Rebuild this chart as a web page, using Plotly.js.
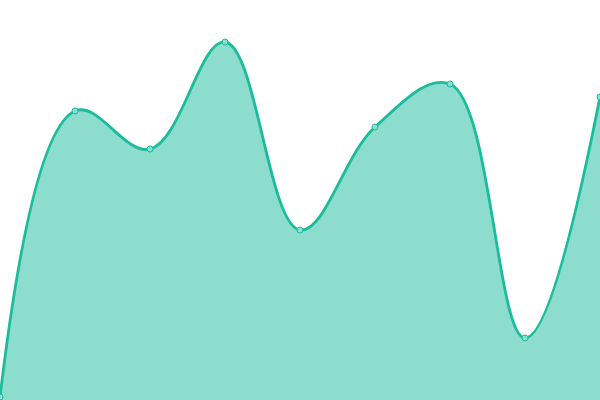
<!DOCTYPE html>
<html>
<head>
<meta charset="utf-8">
<script src="https://cdn.plot.ly/plotly-3.0.1.min.js"></script>
<style>
html, body { margin: 0; padding: 0; background: #fff; }
#chart { width: 600px; height: 400px; }
</style>
</head>
<body>
<div id="chart"></div>
<script>
// values (0 = bottom edge, 400 = top edge)
var xs = [0, 1, 2, 3, 4, 5, 6, 7, 8];
var values = [3, 289, 251, 358, 170, 273, 316, 62, 303];

var trace = {
  x: xs,
  y: values,
  type: 'scatter',
  mode: 'lines+markers',
  fill: 'tozeroy',
  fillcolor: 'rgba(26,188,156,0.5)',
  line: { color: '#1abc9c', width: 2.8, shape: 'spline', smoothing: 1.1 },
  marker: { size: 6, color: '#8ae0d0', line: { color: '#1abc9c', width: 1 } },
  hoverinfo: 'none'
};

var layout = {
  width: 600,
  height: 400,
  margin: { l: 0, r: 0, t: 0, b: 0 },
  paper_bgcolor: '#fff',
  plot_bgcolor: '#fff',
  showlegend: false,
  xaxis: { range: [0, 8], visible: false, fixedrange: true },
  yaxis: { range: [0, 400], visible: false, fixedrange: true }
};

Plotly.newPlot('chart', [trace], layout, { displayModeBar: false, staticPlot: true });
</script>
</body>
</html>
